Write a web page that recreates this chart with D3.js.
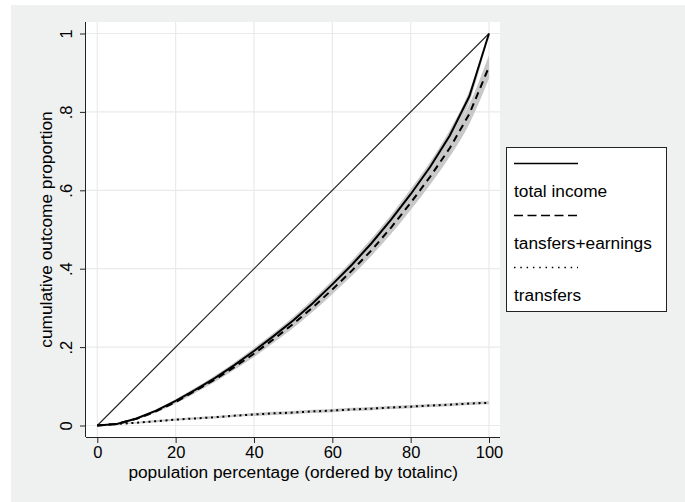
<!DOCTYPE html>
<meta charset="utf-8">
<title>Lorenz curves</title>
<script src="https://cdn.jsdelivr.net/npm/d3@7"></script>
<style>
  body { margin: 0; background: #fff; }
  text { font-family: "Liberation Sans", Arial, sans-serif; fill: #000; }
</style>
<body>
<script>

// population percentage
var pct = [0, 5, 10, 15, 20, 25, 30, 35, 40, 45, 50, 55, 60, 65, 70, 75, 80, 85, 90, 95, 100];
var totalIncome = [0, .004, .018, .038, .063, .091, .121, .154, .19, .228, .268, .312, .36, .41, .465, .525, .59, .66, .74, .84, 1];
var transEarn = [0, .004, .017, .036, .06, .088, .117, .149, .183, .22, .259, .301, .347, .395, .447, .505, .568, .635, .708, .795, .915];
var transfers = [0, .004, .007, .011, .015, .018, .021, .025, .028, .031, .033, .036, .038, .041, .043, .046, .048, .051, .053, .056, .058];
// half width of the grey confidence bands
var ciTotal = [0, .001, .002, .003, .004, .005, .006, .007, .008, .008, .009, .01, .01, .011, .012, .012, .013, .013, .014, .014, 0];
var ciTE = [0, .001, .002, .003, .004, .005, .006, .007, .008, .009, .01, .011, .012, .013, .014, .016, .018, .02, .022, .025, .03];
var ciTr = [0, .001, .002, .003, .003, .003, .003, .003, .004, .004, .004, .004, .004, .004, .004, .004, .004, .004, .004, .004, .004];

var xTicks = [0, 20, 40, 60, 80, 100];
var yTicks = [0, .2, .4, .6, .8, 1];
var yTickLabels = ["0", ".2", ".4", ".6", ".8", "1"];
var legendLabels = ["total income", "tansfers+earnings", "transfers"];
var legendDash = [null, "9,4.5", "1.5,4.8"];

var W = 685, H = 502;
var svg = d3.select("body").append("svg")
  .attr("width", W)
  .attr("height", H);

svg.append("rect")
  .attr("x", 11).attr("y", 5)
  .attr("width", W - 11).attr("height", H - 5)
  .attr("fill", "#eff1f0");

var plotL = 86, plotR = 500, plotT = 22, plotB = 437;

svg.append("rect")
  .attr("x", plotL).attr("y", plotT)
  .attr("width", plotR - plotL).attr("height", plotB - plotT)
  .attr("fill", "#fff");

var x = d3.scaleLinear().domain([0, 100]).range([97.3, 489]);
var y = d3.scaleLinear().domain([0, 1]).range([425.5, 33.5]);

// grid
svg.append("g").selectAll("line").data(xTicks).enter().append("line")
  .attr("x1", function (d) { return x(d) }).attr("x2", function (d) { return x(d) })
  .attr("y1", plotT).attr("y2", plotB)
  .attr("stroke", "#e9eaea").attr("stroke-width", 1.2);
svg.append("g").selectAll("line").data(yTicks).enter().append("line")
  .attr("y1", function (d) { return y(d) }).attr("y2", function (d) { return y(d) })
  .attr("x1", plotL).attr("x2", plotR)
  .attr("stroke", "#e9eaea").attr("stroke-width", 1.2);

// axes
var xAxis = d3.axisBottom(x).tickValues(xTicks).tickSize(6).tickPadding(3).tickSizeOuter(0);
var gx = svg.append("g").attr("transform", "translate(0," + plotB + ")").call(xAxis);
gx.select(".domain").attr("d", "M" + plotL + ",0.5H" + plotR).attr("stroke", "#222");
gx.selectAll(".tick line").attr("stroke", "#222");
gx.selectAll(".tick text").attr("font-size", 16.5).attr("font-family", "Liberation Sans").attr("fill", "#000");

var yAxis = d3.axisLeft(y).tickValues(yTicks).tickFormat(function (d, i) { return yTickLabels[i] })
  .tickSize(6).tickSizeOuter(0);
var gy = svg.append("g").attr("transform", "translate(" + plotL + ",0)").call(yAxis);
gy.select(".domain").attr("d", "M-0.5," + plotT + "V" + plotB).attr("stroke", "#222");
gy.selectAll(".tick line").attr("stroke", "#222");
gy.selectAll(".tick text")
  .attr("font-size", 16.5).attr("font-family", "Liberation Sans").attr("fill", "#000")
  .attr("x", 0).attr("dy", 0)
  .attr("transform", "translate(-14,0) rotate(-90)")
  .attr("text-anchor", "middle").attr("dominant-baseline", "auto");

svg.append("text")
  .attr("x", (x(0) + x(100)) / 2).attr("y", 478)
  .attr("text-anchor", "middle").attr("font-size", 17.3)
  .text("population percentage (ordered by totalinc)");

svg.append("text")
  .attr("transform", "translate(52," + ((plotT + plotB) / 2) + ") rotate(-90)")
  .attr("text-anchor", "middle").attr("font-size", 17.3)
  .text("cumulative outcome proportion");

// bands
var area = function (vals, ci) {
  return d3.area()
    .x(function (d, i) { return x(pct[i]) })
    .y0(function (d, i) { return y(vals[i] - ci[i]) })
    .y1(function (d, i) { return y(vals[i] + ci[i]) })
    .curve(d3.curveMonotoneX)(pct);
};
svg.append("path").attr("d", area(transfers, ciTr)).attr("fill", "#c8c8c8");
svg.append("path").attr("d", area(transEarn, ciTE)).attr("fill", "#c8c8c8");
svg.append("path").attr("d", area(totalIncome, ciTotal)).attr("fill", "#c8c8c8");

// equality line
svg.append("line")
  .attr("x1", x(0)).attr("y1", y(0)).attr("x2", x(100)).attr("y2", y(1))
  .attr("stroke", "#222").attr("stroke-width", 1.1);

var line = function (vals) {
  return d3.line()
    .x(function (d, i) { return x(pct[i]) })
    .y(function (d, i) { return y(vals[i]) })(pct);
};
svg.append("path").attr("d", line(transfers)).attr("fill", "none")
  .attr("stroke", "#000").attr("stroke-width", 2).attr("stroke-dasharray", "2,3.7");
svg.append("path").attr("d", line(transEarn)).attr("fill", "none")
  .attr("stroke", "#000").attr("stroke-width", 2).attr("stroke-dasharray", "7,5");
svg.append("path").attr("d", line(totalIncome)).attr("fill", "none")
  .attr("stroke", "#000").attr("stroke-width", 2);

// legend
var lg = svg.append("g");
lg.append("rect")
  .attr("x", 506.5).attr("y", 147.5).attr("width", 160).attr("height", 164)
  .attr("fill", "#fff").attr("stroke", "#222").attr("stroke-width", 1);
legendLabels.forEach(function (lab, i) {
  var y0 = 163.5 + i * 52;
  lg.append("line")
    .attr("x1", 514).attr("x2", 578).attr("y1", y0).attr("y2", y0)
    .attr("stroke", "#000").attr("stroke-width", 1.5)
    .attr("stroke-dasharray", legendDash[i]);
  lg.append("text")
    .attr("x", 514).attr("y", y0 + 33.5)
    .attr("font-size", 17.3)
    .text(lab);
});

</script>
</body>
